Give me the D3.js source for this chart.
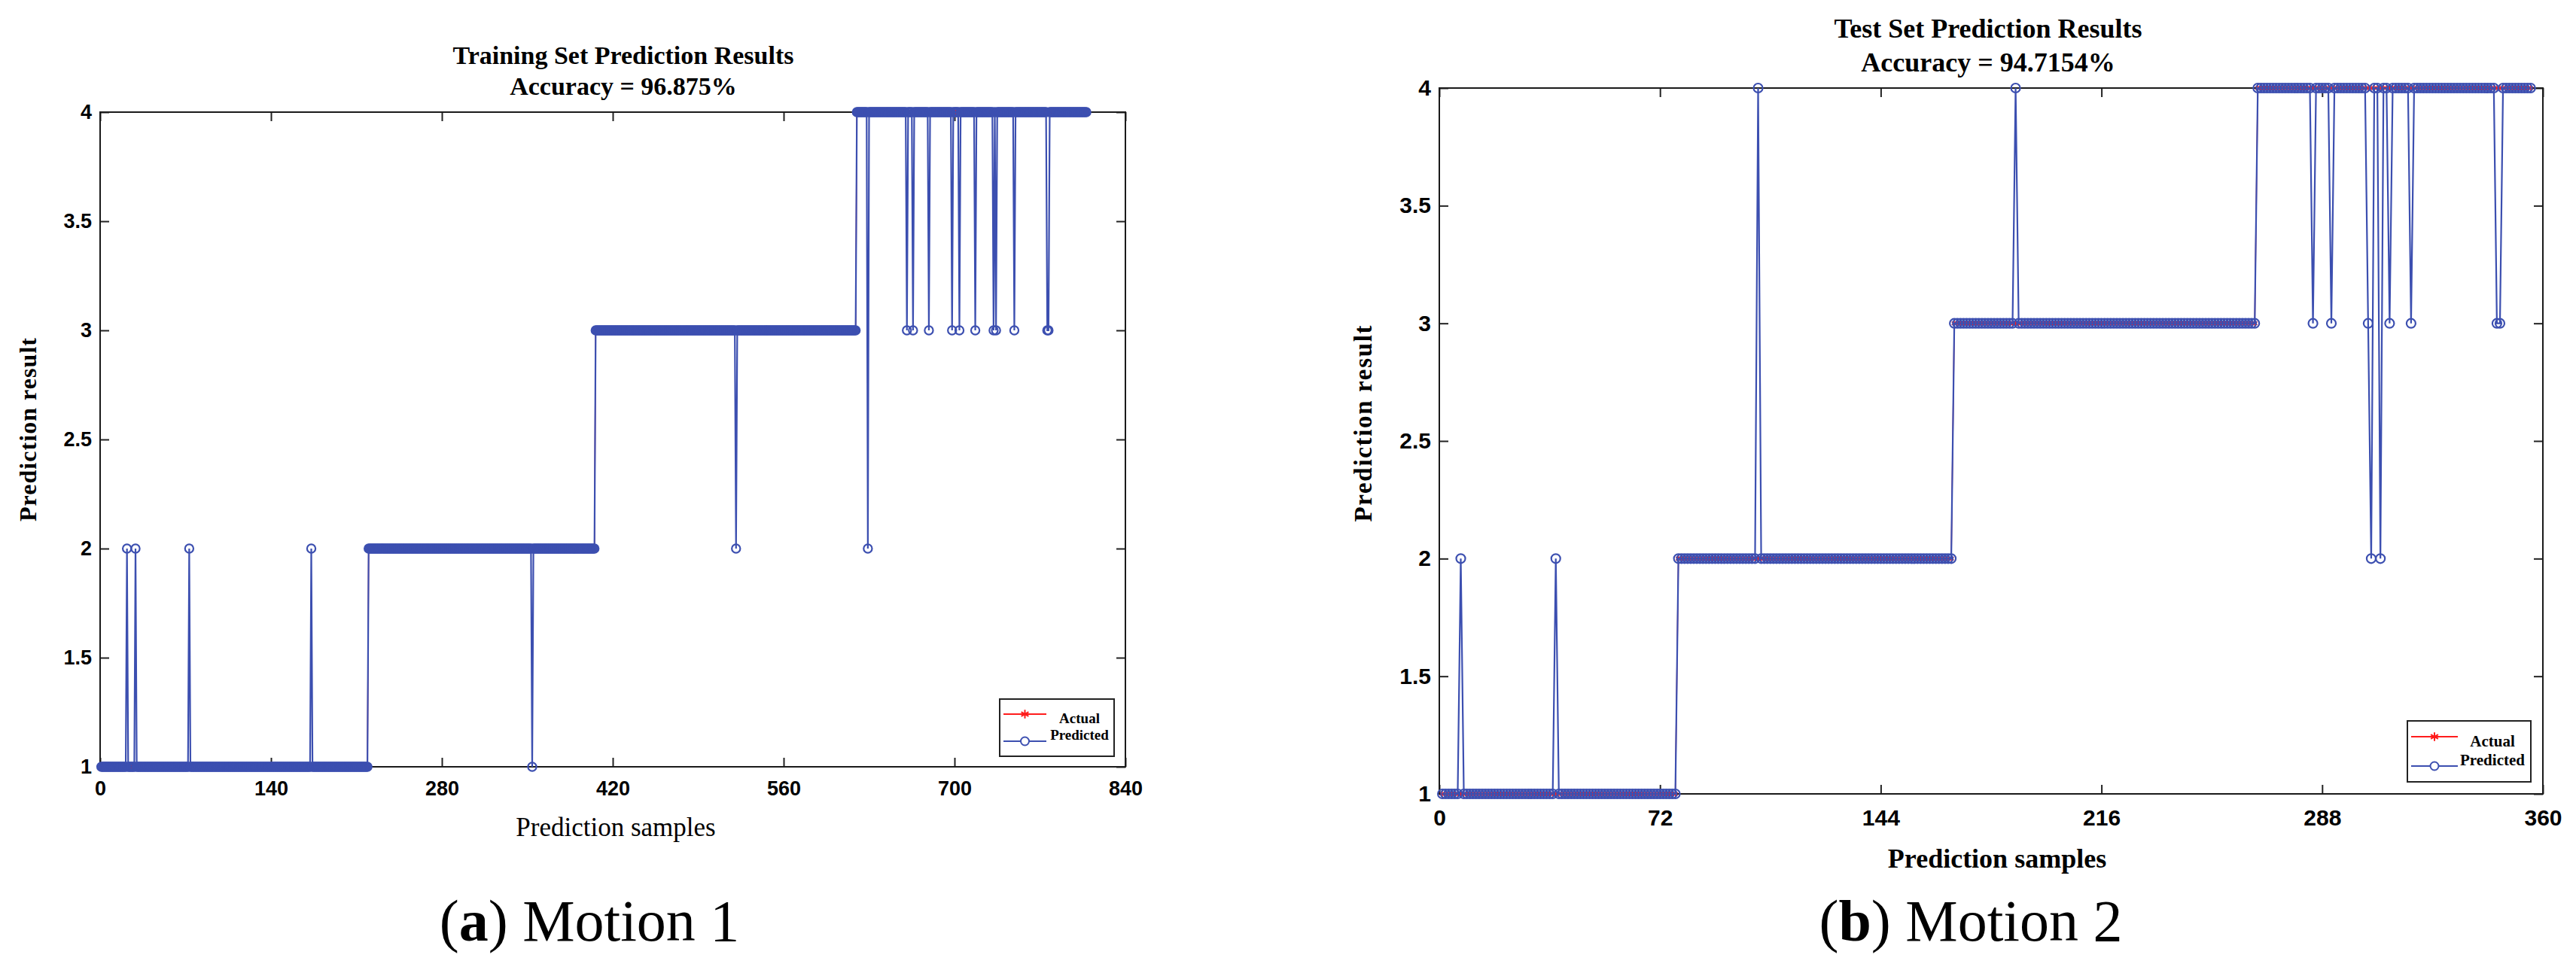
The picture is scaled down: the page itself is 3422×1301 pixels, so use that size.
<!DOCTYPE html>
<html>
<head>
<meta charset="utf-8">
<script src="https://cdn.jsdelivr.net/npm/d3@7"></script>
<style>
  body { margin: 0; background: #fff; }
  svg { display: block; }
</style>
</head>
<body>
<div id="chart"></div>
<script>
// canvas
let width = 3422;
let height = 1301;

// ---- data ----
let classLabels = [1, 2, 3, 4];
let yTicks = [1, 1.5, 2, 2.5, 3, 3.5, 4];

// training set: first sample index of each class block (last entry = one past the end)
let trainClassStarts = [1, 220, 406, 620, 809];
let trainErrIdx  = [22, 29, 73, 173, 354, 521, 629, 661, 666, 679, 698, 704, 717, 732, 734, 749, 776, 777];
let trainErrPred = [ 2,  2,  2,   2,   1,   2,   2,   3,   3,   3,   3,   3,   3,   3,   3,   3,   3,   3];
let trainXTicks = [0, 140, 280, 420, 560, 700, 840];

// test set
let testClassStarts = [1, 78, 168, 267, 357];
let testErrIdx  = [7, 38, 104, 188, 285, 291, 303, 304, 307, 310, 317, 345, 346];
let testErrPred = [2,  2,   4,   4,   3,   3,   3,   2,   2,   3,   3,   3,   3];
let testXTicks = [0, 72, 144, 216, 288, 360];

let blue = '#3c4fb0';
let red = '#ff1c1c';
let serif = '"Liberation Serif", "Times New Roman", serif';
let sans = '"Liberation Sans", Arial, sans-serif';

function buildSeries(starts, errIdx, errPred) {
    let actual = [];
    classLabels.forEach((lab, k) => {
        for (let i = starts[k]; i < starts[k + 1]; i++) actual.push([i, lab]);
    });
    let wrong = new Map(errIdx.map((d, i) => [d, errPred[i]]));
    let predicted = actual.map(([i, v]) => [i, wrong.has(i) ? wrong.get(i) : v]);
    return {actual, predicted};
}

function panel(svg, o) {
    let {actual, predicted} = buildSeries(o.starts, o.errIdx, o.errPred);
    let x = d3.scaleLinear().domain(o.xDomain).range([o.left, o.right]);
    let y = d3.scaleLinear().domain([1, 4]).range([o.bottom, o.top]);
    let g = svg.append('g');

    // axes box with inward ticks on all four sides
    let fmt = d3.format('~g');
    g.append('g').attr('transform', `translate(0,${o.bottom})`)
        .call(d3.axisBottom(x).tickValues(o.xTicks).tickSize(-12).tickPadding(o.xPad).tickFormat(fmt));
    g.append('g').attr('transform', `translate(0,${o.top})`)
        .call(d3.axisTop(x).tickValues(o.xTicks).tickSize(-12).tickFormat(''));
    g.append('g').attr('transform', `translate(${o.left},0)`)
        .call(d3.axisLeft(y).tickValues(yTicks).tickSize(-12).tickPadding(11).tickFormat(fmt));
    g.append('g').attr('transform', `translate(${o.right},0)`)
        .call(d3.axisRight(y).tickValues(yTicks).tickSize(-12).tickFormat(''));
    g.selectAll('.domain').remove();
    g.selectAll('.tick line').attr('stroke', '#222').attr('stroke-width', 2);
    g.selectAll('.tick text')
        .attr('fill', '#000')
        .style('font-family', sans)
        .style('font-weight', 'bold')
        .style('font-size', o.tickFont + 'px');
    g.append('rect')
        .attr('x', o.left).attr('y', o.top)
        .attr('width', o.right - o.left).attr('height', o.bottom - o.top)
        .attr('fill', 'none').attr('stroke', '#1a1a1a').attr('stroke-width', 2);

    let line = d3.line().x(d => x(d[0])).y(d => y(d[1]));
    let star = d3.symbol().type(d3.symbolAsterisk).size(o.starSize);

    g.append('path').datum(actual)
        .attr('d', line).attr('fill', 'none')
        .attr('stroke', red).attr('stroke-width', 1.5);
    g.append('g').selectAll('path').data(actual).join('path')
        .attr('d', star)
        .attr('transform', d => `translate(${x(d[0])},${y(d[1])})`)
        .attr('fill', 'none').attr('stroke', red).attr('stroke-width', 1.3);

    g.append('path').datum(predicted)
        .attr('d', line).attr('fill', 'none')
        .attr('stroke', blue).attr('stroke-width', 2.2);
    g.append('g').selectAll('circle').data(predicted).join('circle')
        .attr('cx', d => x(d[0])).attr('cy', d => y(d[1]))
        .attr('r', o.r)
        .attr('fill', 'none').attr('stroke', blue).attr('stroke-width', o.rStroke);

    // titles
    o.titles.forEach((t, i) => {
        g.append('text')
            .attr('x', o.titleX).attr('y', o.titleY[i])
            .attr('text-anchor', 'middle')
            .style('font-family', serif).style('font-weight', 'bold')
            .style('font-size', o.titleFont + 'px')
            .text(t);
    });

    // axis labels
    g.append('text')
        .attr('x', o.xLabelX).attr('y', o.xLabelY)
        .attr('text-anchor', 'middle')
        .style('font-family', serif).style('font-weight', o.xLabelWeight)
        .style('font-size', o.xLabelFont + 'px')
        .text('Prediction samples');
    g.append('text')
        .attr('transform', `translate(${o.yLabelX},${o.yLabelY}) rotate(-90)`)
        .attr('text-anchor', 'middle')
        .attr('textLength', o.yLabelLen).attr('lengthAdjust', 'spacing')
        .style('font-family', serif).style('font-weight', 'bold')
        .style('font-size', o.yLabelFont + 'px')
        .text('Prediction result');

    // legend
    let lg = g.append('g');
    let L = o.legend;
    lg.append('rect')
        .attr('x', L.x0).attr('y', L.y0).attr('width', L.x1 - L.x0).attr('height', L.y1 - L.y0)
        .attr('fill', '#fff').attr('stroke', '#222').attr('stroke-width', 2);
    let mid = (L.lx0 + L.lx1) / 2;
    lg.append('line').attr('x1', L.lx0).attr('x2', L.lx1).attr('y1', L.ry).attr('y2', L.ry)
        .attr('stroke', red).attr('stroke-width', 2);
    lg.append('path').attr('d', d3.symbol().type(d3.symbolAsterisk).size(90))
        .attr('transform', `translate(${mid},${L.ry})`)
        .attr('fill', 'none').attr('stroke', red).attr('stroke-width', 2);
    lg.append('line').attr('x1', L.lx0).attr('x2', L.lx1).attr('y1', L.by).attr('y2', L.by)
        .attr('stroke', blue).attr('stroke-width', 2);
    lg.append('circle').attr('cx', mid).attr('cy', L.by).attr('r', 5.5)
        .attr('fill', '#fff').attr('stroke', blue).attr('stroke-width', 2);
    [['Actual', L.aY], ['Predicted', L.pY]].forEach(([t, yy]) => {
        lg.append('text')
            .attr('x', L.tx).attr('y', yy).attr('text-anchor', 'middle')
            .style('font-family', serif).style('font-weight', 'bold')
            .style('font-size', L.font + 'px')
            .text(t);
    });

    // sub-figure caption
    let cap = g.append('text')
        .attr('x', o.capX).attr('y', 1250).attr('text-anchor', 'middle')
        .style('font-family', serif).style('font-size', '78px');
    cap.append('tspan').text('(');
    cap.append('tspan').style('font-weight', 'bold').text(o.capLetter);
    cap.append('tspan').text(') ' + o.capText);
}

let svg = d3.select('#chart').append('svg')
    .attr('width', width).attr('height', height)
    .attr('viewBox', `0 0 ${width} ${height}`);
svg.append('rect').attr('width', width).attr('height', height).attr('fill', '#fff');

panel(svg, {
    starts: trainClassStarts, errIdx: trainErrIdx, errPred: trainErrPred,
    xDomain: [0, 840], xTicks: trainXTicks,
    left: 133, right: 1495, top: 149, bottom: 1019,
    xPad: 19, tickFont: 27, r: 5.6, rStroke: 2.2, starSize: 30,
    titles: ['Training Set Prediction Results', 'Accuracy = 96.875%'],
    titleX: 828, titleY: [85, 126], titleFont: 34,
    xLabelX: 818, xLabelY: 1111, xLabelFont: 35, xLabelWeight: 'normal',
    yLabelX: 48, yLabelY: 571, yLabelFont: 32, yLabelLen: 244,
    legend: {x0: 1328, x1: 1480, y0: 929, y1: 1005, lx0: 1333, lx1: 1390,
             ry: 949, by: 985, tx: 1434, aY: 961, pY: 983, font: 19},
    capX: 783, capLetter: 'a', capText: 'Motion 1',
});

panel(svg, {
    starts: testClassStarts, errIdx: testErrIdx, errPred: testErrPred,
    xDomain: [0, 360], xTicks: testXTicks,
    left: 1912, right: 3378, top: 117, bottom: 1055,
    xPad: 21, tickFont: 30, r: 6, rStroke: 2.2, starSize: 45,
    titles: ['Test Set Prediction Results', 'Accuracy = 94.7154%'],
    titleX: 2641, titleY: [50, 95], titleFont: 36,
    xLabelX: 2653, xLabelY: 1153, xLabelFont: 36, xLabelWeight: 'bold',
    yLabelX: 1822, yLabelY: 563, yLabelFont: 33, yLabelLen: 261,
    legend: {x0: 3198, x1: 3362, y0: 958, y1: 1039, lx0: 3203, lx1: 3265,
             ry: 979, by: 1018, tx: 3311, aY: 992, pY: 1017, font: 21},
    capX: 2618, capLetter: 'b', capText: 'Motion 2',
});
</script>
</body>
</html>
